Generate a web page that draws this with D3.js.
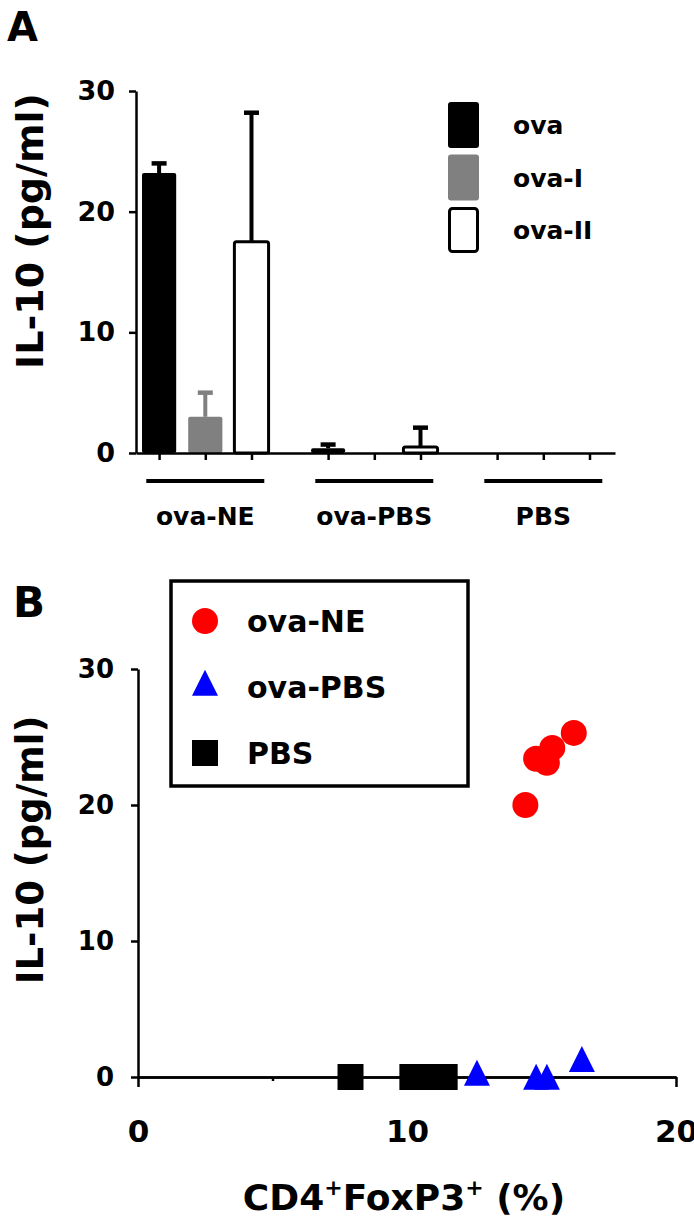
<!DOCTYPE html>
<html>
<head>
<meta charset="utf-8">
<script src="https://d3js.org/d3.v7.min.js"></script>
<style>
  body { margin: 0; background: #fff; }
  svg text { font-family: "DejaVu Sans", sans-serif; font-weight: bold; fill: #000; }
  .axis path, .axis line { stroke: #000; stroke-width: 2.5; }
</style>
</head>
<body>
<div id="chart"></div>
<script>
// ---- panel A data ----
const groups = ["ova-NE", "ova-PBS", "PBS"];
const series = ["ova", "ova-I", "ova-II"];
const meanOva = [23.2, 0.4, 0];
const meanOvaI = [3.0, 0, 0];
const meanOvaII = [17.5, 0.5, 0];
const errOva = [0.8, 0.3, 0];
const errOvaI = [2.0, 0, 0];
const errOvaII = [10.7, 1.6, 0];
const yTicksA = [0, 10, 20, 30];

// ---- panel B data ----
const neX = [14.4, 14.8, 15.2, 15.4, 16.2];
const neY = [20.0, 23.4, 23.1, 24.2, 25.3];
const ovaPbsX = [12.6, 14.8, 15.2, 16.5];
const ovaPbsY = [0, -0.3, -0.3, 1.0];
const pbsX = [7.9, 10.2, 10.6, 11.0, 11.4];
const pbsY = [0, 0, 0, 0, 0];
const yTicksB = [0, 10, 20, 30];
const xTicksB = [0, 10, 20];
const xMinorB = [5, 15];
const scatterNames = ["ova-NE", "ova-PBS", "PBS"];

const W = 694, H = 1220;
const svg = d3.select("#chart").append("svg")
    .attr("width", W).attr("height", H);

const fills = { "ova": "#000", "ova-I": "#808080", "ova-II": "#fff" };
const strokes = { "ova": "#000", "ova-I": "#808080", "ova-II": "#000" };
const means = { "ova": meanOva, "ova-I": meanOvaI, "ova-II": meanOvaII };
const errs = { "ova": errOva, "ova-I": errOvaI, "ova-II": errOvaII };

// ================= Panel A =================
svg.append("text").attr("x", 7).attr("y", 41).style("font-size", "40px").text("A");

const yA = d3.scaleLinear().domain([0, 30]).range([453, 91]);
const x0 = d3.scaleBand().domain(groups).range([136, 612.6]).paddingInner(0.18).paddingOuter(0);
const x1 = d3.scaleBand().domain(series).range([0, x0.bandwidth()]).paddingInner(0.26).paddingOuter(0.13);

const barData = [];
groups.forEach((g, gi) => series.forEach(s => {
  barData.push({ g: g, s: s, v: means[s][gi], e: errs[s][gi] });
}));

// error bars (drawn under bars)
const eb = svg.append("g");
barData.filter(d => d.e > 0).forEach(d => {
  const cx = x0(d.g) + x1(d.s) + x1.bandwidth() / 2;
  const col = d.s === "ova-I" ? "#808080" : "#000";
  eb.append("line")
    .attr("x1", cx).attr("x2", cx)
    .attr("y1", yA(d.v)).attr("y2", yA(d.v + d.e))
    .attr("stroke", col).attr("stroke-width", 4);
  eb.append("line")
    .attr("x1", cx - 7.5).attr("x2", cx + 7.5)
    .attr("y1", yA(d.v + d.e)).attr("y2", yA(d.v + d.e))
    .attr("stroke", col).attr("stroke-width", 4.5);
});

svg.append("g").selectAll("rect")
  .data(barData.filter(d => d.v > 0))
  .join("rect")
  .attr("x", d => x0(d.g) + x1(d.s))
  .attr("y", d => yA(d.v))
  .attr("width", x1.bandwidth())
  .attr("height", d => yA(0) - yA(d.v))
  .attr("rx", 2)
  .attr("fill", d => fills[d.s])
  .attr("stroke", d => strokes[d.s])
  .attr("stroke-width", d => d.s === "ova-II" ? 3 : 0);

// y axis A
const gyA = svg.append("g").attr("class", "axis")
  .attr("transform", "translate(136,0)")
  .call(d3.axisLeft(yA).tickValues(yTicksA).tickSize(7).tickSizeOuter(0).tickPadding(14));
gyA.selectAll("text").style("font-size", "27px");

// x axis A (ticks at each bar centre)
const tickPos = [];
groups.forEach(g => series.forEach(s => tickPos.push(x0(g) + x1(s) + x1.bandwidth() / 2)));
const xAxisScale = d3.scaleLinear().domain([136, 615]).range([136, 615]);
svg.append("g").attr("class", "axis")
  .attr("transform", "translate(0,453)")
  .call(d3.axisBottom(xAxisScale).tickValues(tickPos).tickSize(7).tickSizeOuter(0).tickFormat(""));

// group underlines and labels
groups.forEach(g => {
  const cx = x0(g) + x0.bandwidth() / 2;
  svg.append("line")
    .attr("x1", cx - 59).attr("x2", cx + 59)
    .attr("y1", 481).attr("y2", 481)
    .attr("stroke", "#000").attr("stroke-width", 4);
  svg.append("text")
    .attr("x", cx).attr("y", 525)
    .attr("text-anchor", "middle")
    .style("font-size", "25px")
    .text(g);
});

svg.append("text")
  .attr("transform", "translate(43,231) rotate(-90)")
  .attr("text-anchor", "middle")
  .style("font-size", "38px")
  .text("IL-10 (pg/ml)");

// legend A
const legA = svg.append("g").attr("transform", "translate(448,102)");
series.forEach((s, i) => {
  const gy = i * 52.5;
  legA.append("rect")
    .attr("x", s === "ova-II" ? 1.5 : 0).attr("y", gy + (s === "ova-II" ? 1.5 : 0))
    .attr("width", s === "ova-II" ? 28 : 31).attr("height", s === "ova-II" ? 43 : 46)
    .attr("rx", 3)
    .attr("fill", fills[s]).attr("stroke", strokes[s])
    .attr("stroke-width", s === "ova-II" ? 3 : 0);
  legA.append("text")
    .attr("x", 65).attr("y", gy + 23).attr("dy", "0.36em")
    .style("font-size", "25px")
    .text(s);
});

// ================= Panel B =================
svg.append("text").attr("x", 13).attr("y", 617).style("font-size", "42px").text("B");

const xB = d3.scaleLinear().domain([0, 20]).range([138, 676]);
const yB = d3.scaleLinear().domain([0, 30]).range([1077, 669]);

const gyB = svg.append("g").attr("class", "axis")
  .attr("transform", "translate(138,0)")
  .call(d3.axisLeft(yB).tickValues(yTicksB).tickSize(7).tickSizeOuter(0).tickPadding(17));
gyB.selectAll("text").style("font-size", "26px");

svg.append("g").attr("class", "axis")
  .attr("transform", "translate(0,1077)")
  .call(d3.axisBottom(xB).tickValues(xMinorB).tickSize(4).tickSizeOuter(0).tickFormat(""));
const gxB = svg.append("g").attr("class", "axis")
  .attr("transform", "translate(0,1077)")
  .call(d3.axisBottom(xB).tickValues(xTicksB).tickSize(10).tickSizeOuter(0).tickPadding(33));
gxB.selectAll("text").style("font-size", "31px");

svg.append("text")
  .attr("transform", "translate(43,850) rotate(-90)")
  .attr("text-anchor", "middle")
  .style("font-size", "37px")
  .text("IL-10 (pg/ml)");

const xl = svg.append("text")
  .attr("x", 404).attr("y", 1210)
  .attr("text-anchor", "middle")
  .style("font-size", "36px");
xl.append("tspan").text("CD4");
xl.append("tspan").attr("dy", -15).style("font-size", "22px").text("+");
xl.append("tspan").attr("dy", 15).text("FoxP3");
xl.append("tspan").attr("dy", -15).style("font-size", "22px").text("+");
xl.append("tspan").attr("dy", 15).text(" (%)");

// custom triangle (taller than equilateral), centred on centroid
const triType = {
  draw(context, size) {
    const w = Math.sqrt(size), h = w;
    context.moveTo(0, -2 * h / 3);
    context.lineTo(w / 2, h / 3);
    context.lineTo(-w / 2, h / 3);
    context.closePath();
  }
};
const symSpecs = [
  { type: d3.symbolCircle, size: Math.PI * 13 * 13, color: "#ff0000" },
  { type: triType, size: 676, color: "#0000ff" },
  { type: d3.symbolSquare, size: 676, color: "#000" }
];

const pts = [];
pbsX.forEach((x, i) => pts.push({ x: x, y: pbsY[i], k: 2 }));
ovaPbsX.forEach((x, i) => pts.push({ x: x, y: ovaPbsY[i], k: 1 }));
neX.forEach((x, i) => pts.push({ x: x, y: neY[i], k: 0 }));

svg.append("g").selectAll("path")
  .data(pts)
  .join("path")
  .attr("transform", d => `translate(${xB(d.x)},${yB(d.y)})`)
  .attr("d", d => d3.symbol().type(symSpecs[d.k].type).size(symSpecs[d.k].size)())
  .attr("fill", d => symSpecs[d.k].color);

// legend B
const legB = svg.append("g").attr("transform", "translate(171,581)");
legB.append("rect")
  .attr("width", 297).attr("height", 205)
  .attr("fill", "#fff").attr("stroke", "#000").attr("stroke-width", 3.5);
scatterNames.forEach((n, i) => {
  const cy = 40 + i * 66;
  legB.append("path")
    .attr("transform", `translate(34,${cy})`)
    .attr("d", d3.symbol().type(symSpecs[i].type).size(symSpecs[i].size)())
    .attr("fill", symSpecs[i].color);
  legB.append("text")
    .attr("x", 76).attr("y", cy).attr("dy", "0.36em")
    .style("font-size", "30px")
    .text(n);
});
</script>
</body>
</html>
